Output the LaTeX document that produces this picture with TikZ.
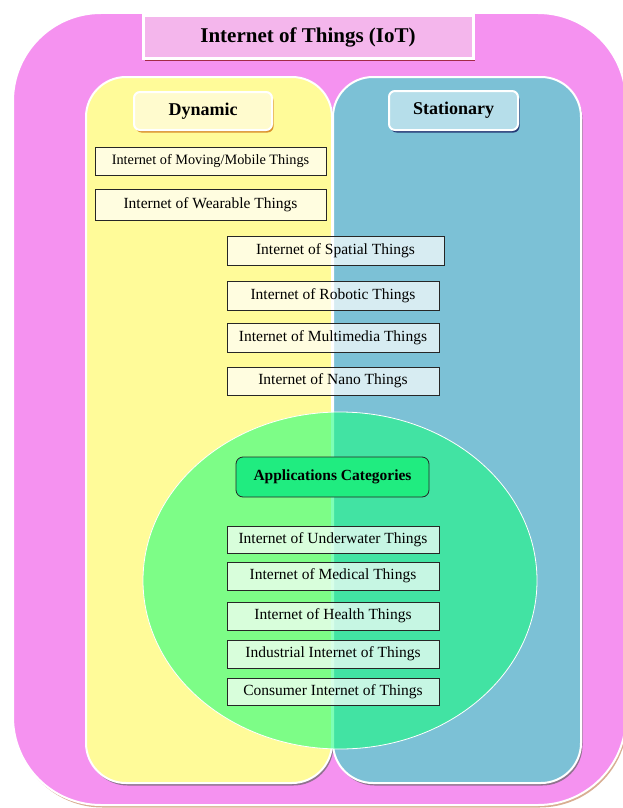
\documentclass[tikz,border=0pt]{standalone}
\usepackage{fontspec}
\setmainfont{Liberation Serif}
\usetikzlibrary{shadows}
\definecolor{iotpink}{RGB}{245,146,240}
\definecolor{titlepink}{RGB}{244,182,236}
\definecolor{dynyellow}{RGB}{255,251,153}
\definecolor{dynlight}{RGB}{255,251,206}
\definecolor{statblue}{RGB}{124,193,214}
\definecolor{statlight}{RGB}{182,222,234}
\definecolor{appgreen}{RGB}{20,255,122}
\definecolor{appbox}{RGB}{32,236,128}
\definecolor{tanshadow}{RGB}{200,140,100}

\begin{document}
\begin{tikzpicture}[x=1pt,y=-1pt,
  thing/.style={draw=black!85, line width=0.8pt, fill=white, fill opacity=0.7, text opacity=1, inner sep=0pt, font=\fontsize{15.5}{18}\selectfont},
  head/.style={draw=white, line width=2pt, rounded corners=6pt, inner sep=0pt, font=\fontsize{18}{21}\selectfont\bfseries},
  lowshadow/.style={drop shadow={shadow xshift=1.5pt, shadow yshift=-2.5pt, fill=#1, opacity=.7}}]
\useasboundingbox (0,0) rectangle (623,808);
% outer frame
\filldraw[lowshadow=tanshadow, draw=white, line width=2pt, fill=iotpink, rounded corners=88pt] (13,13) rectangle (626,805);
\node[head, lowshadow=red!50!black, rounded corners=0pt, draw=white, line width=3pt, fill=titlepink, minimum width=330pt, minimum height=43pt, font=\fontsize{21}{25}\selectfont\bfseries] (iot) at (308,37.5) {Internet of Things (IoT)};
% the two halves
\filldraw[lowshadow=black!60, draw=white, line width=2pt, fill=dynyellow, rounded corners=40pt] (86,77) rectangle (332,783);
\filldraw[lowshadow=black!60, draw=white, line width=2pt, fill=statblue, rounded corners=40pt] (333,77) rectangle (581,783);
\node[head, lowshadow=orange!80!black, fill=dynlight, minimum width=138pt, minimum height=38pt] (dyn) at (203,111) {Dynamic};
\node[head, lowshadow=blue!30!black, fill=statlight, minimum width=129pt, minimum height=39pt] (stat) at (453.5,110.5) {Stationary};
% application ellipse
\filldraw[draw=white, line width=0.8pt, fill=appgreen, fill opacity=0.55] (340,580.5) ellipse [x radius=197pt, y radius=168.5pt];
\node[draw=black!85, line width=0.8pt, fill=appbox, rounded corners=7pt, minimum width=193pt, minimum height=40pt, inner sep=0pt, font=\fontsize{15.5}{18}\selectfont\bfseries] (apps) at (332.5,477) {Applications Categories};
% things
\node[thing, minimum width=231pt, minimum height=28pt, font=\fontsize{14.3}{17}\selectfont] (mobile) at (210.5,161) {Internet of Moving/Mobile Things};
\node[thing, minimum width=231pt, minimum height=31pt] (wear) at (210.5,204.5) {Internet of Wearable Things};
\node[thing, minimum width=217pt, minimum height=29pt] (spatial) at (335.5,250.5) {Internet of Spatial Things};
\node[thing, minimum width=212pt, minimum height=29pt] (robot) at (333,295.5) {Internet of Robotic Things};
\node[thing, minimum width=212pt, minimum height=29pt] (media) at (333,337.5) {Internet of Multimedia Things};
\node[thing, minimum width=212pt, minimum height=28pt] (nano) at (333,381) {Internet of Nano Things};
\node[thing, minimum width=212pt, minimum height=27pt] (water) at (333,539.5) {Internet of Underwater Things};
\node[thing, minimum width=212pt, minimum height=28pt] (medic) at (333,576) {Internet of Medical Things};
\node[thing, minimum width=212pt, minimum height=28pt] (health) at (333,616) {Internet of Health Things};
\node[thing, minimum width=212pt, minimum height=28pt] (indus) at (333,654) {Industrial Internet of Things};
\node[thing, minimum width=212pt, minimum height=27pt] (consum) at (333,691.5) {Consumer Internet of Things};
\end{tikzpicture}
\end{document}
